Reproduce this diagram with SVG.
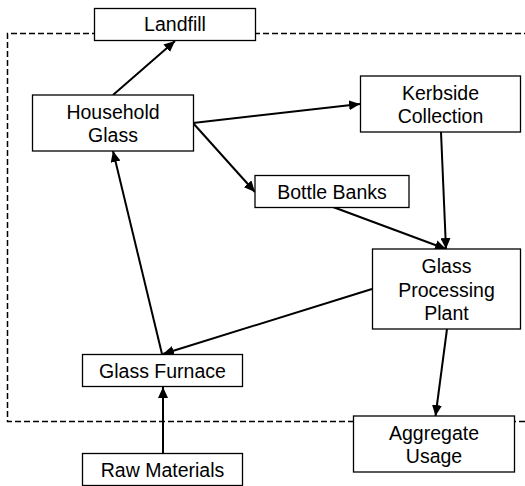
<svg xmlns="http://www.w3.org/2000/svg" width="525" height="486" viewBox="0 0 525 486">
<defs>
<marker id="arr" markerUnits="userSpaceOnUse" markerWidth="11" markerHeight="10" refX="11" refY="5" orient="auto">
<path d="M0,0 L11,5 L0,10 z" fill="#000"/>
</marker>
<style>
.box{fill:#fff;stroke:#000;stroke-width:1.3}
.t{font-family:"Liberation Sans",Arial,sans-serif;font-size:19.5px;text-anchor:middle;fill:#000}
.c{stroke:#000;stroke-width:2;fill:none;marker-end:url(#arr)}
.dash{stroke:#000;stroke-width:1.5;fill:none;stroke-dasharray:6,3}
</style>
</defs>
<rect width="525" height="486" fill="#fff"/>
<path class="dash" d="M530,33.5 H7.5 V421.5 H530"/>
<g id="connectors">
<line class="c" x1="113" y1="95" x2="175" y2="41"/>
<line class="c" x1="193" y1="123" x2="360" y2="104"/>
<line class="c" x1="193" y1="123" x2="255" y2="192"/>
<line class="c" x1="333" y1="207" x2="446" y2="249"/>
<line class="c" x1="441" y1="132" x2="446" y2="249"/>
<line class="c" x1="372" y1="289" x2="163" y2="354"/>
<line class="c" x1="162" y1="354" x2="113" y2="151"/>
<line class="c" x1="163" y1="453" x2="163" y2="387"/>
<line class="c" x1="447" y1="329" x2="435.5" y2="416"/>
</g>
<g id="landfill">
<rect class="box" x="94.5" y="8.5" width="161" height="32"/>
<text class="t" x="175" y="31.3">Landfill</text>
</g>
<g id="household-glass">
<rect class="box" x="32.5" y="95" width="161" height="56"/>
<text class="t" x="113" y="118.5">Household</text>
<text class="t" x="113" y="142">Glass</text>
</g>
<g id="kerbside-collection">
<rect class="box" x="360.5" y="76" width="160" height="56"/>
<text class="t" x="440.5" y="99.5">Kerbside</text>
<text class="t" x="440.5" y="123.3">Collection</text>
</g>
<g id="bottle-banks">
<rect class="box" x="255" y="175.5" width="154" height="32"/>
<text class="t" x="332" y="198.5">Bottle Banks</text>
</g>
<g id="glass-processing-plant">
<rect class="box" x="372.5" y="249" width="148" height="80"/>
<text class="t" x="446.5" y="272.5">Glass</text>
<text class="t" x="446.5" y="296.7">Processing</text>
<text class="t" x="446.5" y="320.3">Plant</text>
</g>
<g id="glass-furnace">
<rect class="box" x="82.5" y="354.5" width="160" height="32"/>
<text class="t" x="162.5" y="378">Glass Furnace</text>
</g>
<g id="aggregate-usage">
<rect class="box" x="353.5" y="416" width="161" height="56"/>
<text class="t" x="434" y="440.2">Aggregate</text>
<text class="t" x="434" y="463">Usage</text>
</g>
<g id="raw-materials">
<rect class="box" x="82.5" y="453.5" width="160" height="32"/>
<text class="t" x="162.5" y="477.2">Raw Materials</text>
</g>
</svg>
